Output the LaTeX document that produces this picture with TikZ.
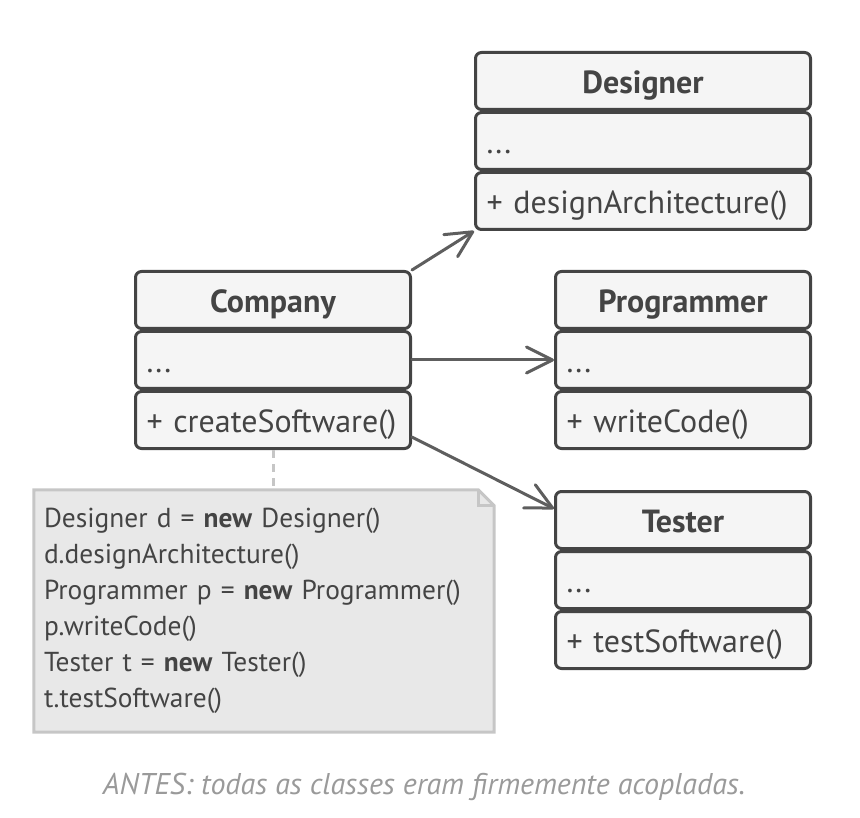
\documentclass[tikz,border=0pt]{standalone}
\usepackage{fontspec}
\setmainfont{PT Sans}
\usetikzlibrary{positioning, arrows.meta, backgrounds}
\definecolor{edge}{HTML}{444444}
\definecolor{boxbg}{HTML}{F5F5F5}
\definecolor{arrowgray}{HTML}{5E5E5E}
\definecolor{notebg}{HTML}{E8E8E8}
\definecolor{noteedge}{HTML}{C6C6C6}
\definecolor{captiongray}{HTML}{9A9A9A}
\tikzstyle{part} = [draw=edge, fill=boxbg, line width=3pt, rounded corners=6pt, minimum height=57pt, text=edge, text height=28pt, text depth=3pt, font=\fontsize{32}{36}\selectfont]
\tikzstyle{head} = [part, font=\bfseries\fontsize{32}{36}\selectfont]
\tikzstyle{body} = [part, align=left, inner xsep=11pt]
\tikzstyle{arrow} = [line width=3pt, arrowgray, line cap=round, -{Straight Barb[length=26pt, width=26pt, round]}]

\begin{document}
\begin{tikzpicture}[x=1pt, y=-1pt]
\useasboundingbox (0,0) rectangle (860,818);

% Company
\node[head, minimum width=275pt] (c-head) at (273,300) {Company};
\node[body, text width=253pt, below=0pt of c-head] (c-mid) {...};
\node[body, text width=253pt, below=0pt of c-mid] (c-meth) {+ createSoftware()};

% Designer
\node[head, minimum width=335pt] (d-head) at (643,81) {Designer};
\node[body, text width=313pt, below=0pt of d-head] (d-mid) {...};
\node[body, text width=313pt, below=0pt of d-mid] (d-meth) {+ designArchitecture()};

% Programmer
\node[head, minimum width=255pt] (p-head) at (683,300) {Programmer};
\node[body, text width=233pt, below=0pt of p-head] (p-mid) {...};
\node[body, text width=233pt, below=0pt of p-mid] (p-meth) {+ writeCode()};

% Tester
\node[head, minimum width=255pt] (t-head) at (683,520) {Tester};
\node[body, text width=233pt, below=0pt of t-head] (t-mid) {...};
\node[body, text width=233pt, below=0pt of t-mid] (t-meth) {+ testSoftware()};

\draw[arrow] (c-head.north east) -- (d-meth.south west);
\draw[arrow] (c-mid.east) -- (p-mid.west);
\draw[arrow] (c-meth.-7) -- (t-head.175);

% note
\node[text=edge, align=left, text width=440pt, inner xsep=10pt, minimum height=242pt, font=\fontsize{27.4}{36}\selectfont] (note) at (264,611) {Designer d = \textbf{new} Designer()\\
d.designArchitecture()\\
Programmer p = \textbf{new} Programmer()\\
p.writeCode()\\
Tester t = \textbf{new} Tester()\\
t.testSoftware()};
\begin{pgfonlayer}{background}
\draw[noteedge, fill=notebg, line width=3pt] (note.north west) -- ([xshift=-16pt]note.north east) -- ([yshift=-16pt]note.north east) -- (note.south east) -- (note.south west) -- cycle;
\end{pgfonlayer}
\draw[noteedge, line width=3pt] ([xshift=-16pt]note.north east) |- ([yshift=-16pt]note.north east);
\draw[noteedge, line width=3pt, dash pattern=on 8pt off 6pt] (c-meth.south) -- (c-meth.south |- note.north);

\node[text=captiongray, font=\itshape\fontsize{30}{34}\selectfont] (caption) at (424,787) {ANTES: todas as classes eram firmemente acopladas.};
\end{tikzpicture}
\end{document}
